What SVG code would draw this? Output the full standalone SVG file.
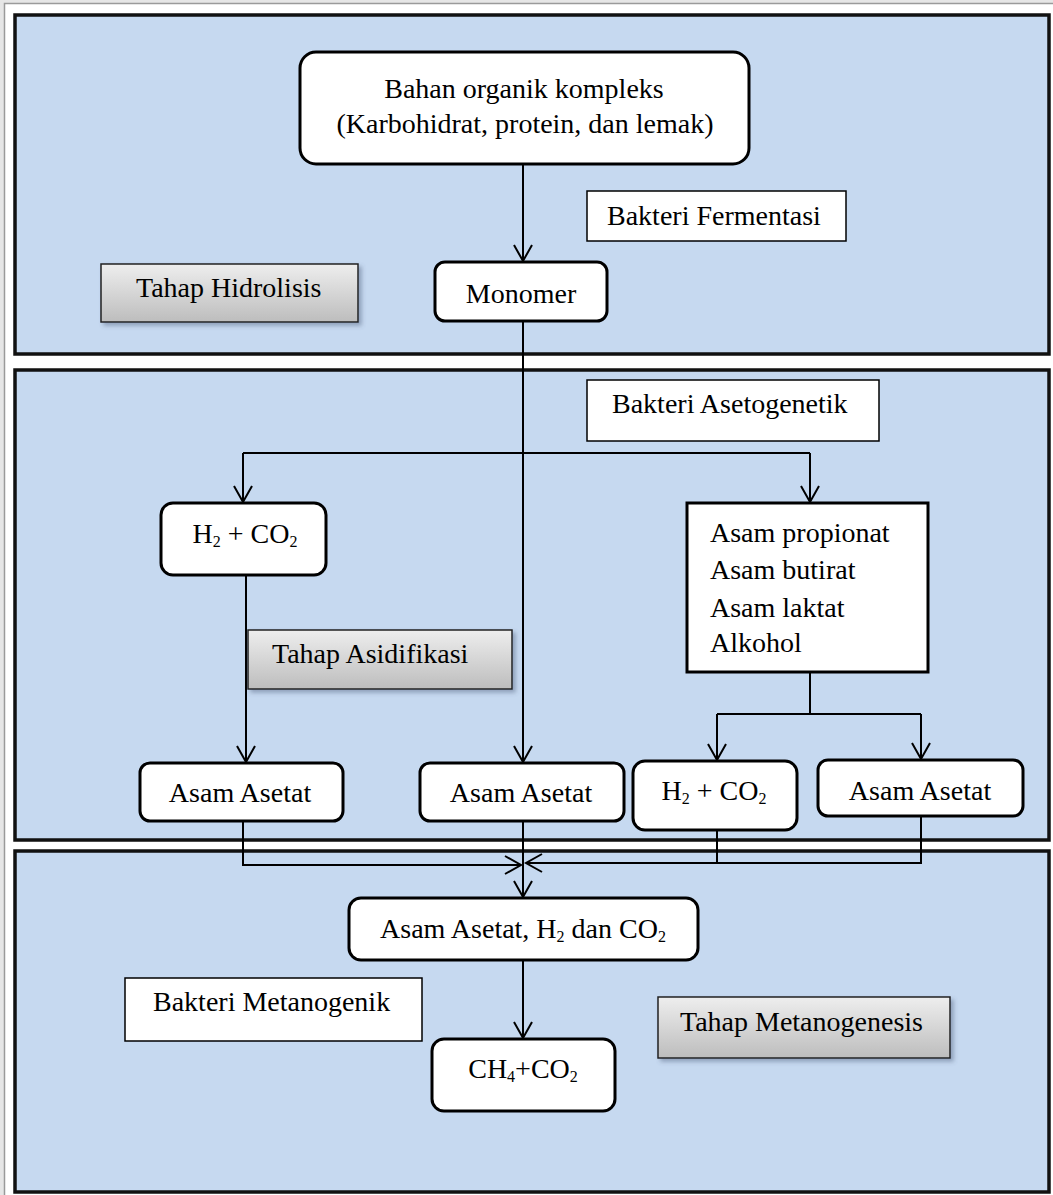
<svg xmlns="http://www.w3.org/2000/svg" width="1053" height="1195" viewBox="0 0 1053 1195">
<style>
text{font-family:"Liberation Serif","Times New Roman",serif;font-size:28px;fill:#000}
.panel{fill:#c6d9f0;stroke:#111;stroke-width:3.5}
.node{fill:#fff;stroke:#000;stroke-width:3}
.lbl{fill:#fff;stroke:#000;stroke-width:1.5}
.stage{fill:url(#gray);stroke:#222;stroke-width:1.5;filter:url(#sh)}
.con{fill:none;stroke:#000;stroke-width:2}
.arr{marker-end:url(#ah)}
.m{text-anchor:middle}
.sub{font-size:16px}
</style>
<defs>
<linearGradient id="gray" x1="0" y1="0" x2="0" y2="1">
<stop offset="0" stop-color="#eeeeee"/>
<stop offset="1" stop-color="#bdbdbd"/>
</linearGradient>
<filter id="sh" x="-10%" y="-20%" width="130%" height="160%">
<feDropShadow dx="3" dy="3" stdDeviation="2" flood-color="#4a5a78" flood-opacity="0.45"/>
</filter>
<marker id="ah" markerUnits="userSpaceOnUse" markerWidth="24" markerHeight="24" viewBox="-20 -12 24 24" refX="0" refY="0" orient="auto">
<path d="M-16,-9 L0,0 L-16,9" fill="none" stroke="#000" stroke-width="2"/>
</marker>
</defs>
<rect x="0" y="0" width="1053" height="1195" fill="#e6e6e6"/>
<rect x="4.5" y="3.5" width="1060" height="1200" fill="#fff" stroke="#9a9a9a" stroke-width="1.5"/>
<g id="panels">
<rect class="panel" x="15" y="15" width="1034" height="339"/>
<rect class="panel" x="15" y="370" width="1034" height="470"/>
<rect class="panel" x="15" y="851" width="1034" height="341"/>
</g>
<g id="connectors">
<path class="con arr" d="M523,164 V261"/>
<path class="con arr" d="M523,321 V762"/>
<path class="con" d="M243,453 H810"/>
<path class="con arr" d="M243,453 V502"/>
<path class="con arr" d="M810,453 V502"/>
<path class="con arr" d="M246,575 V762"/>
<path class="con" d="M810,672 V714 M717,714 H921"/>
<path class="con arr" d="M717,714 V760"/>
<path class="con arr" d="M921,714 V759"/>
<path class="con arr" d="M243,821 V865 H521"/>
<path class="con" d="M717,830 V863"/>
<path class="con arr" d="M921,816 V863 H526"/>
<path class="con arr" d="M523,821 V897"/>
<path class="con arr" d="M523,960 V1038"/>
</g>
<g id="n-bahan">
<rect class="node" x="300" y="52" width="449" height="112" rx="16"/>
<text class="m" x="524" y="98">Bahan organik kompleks</text>
<text class="m" x="525" y="133">(Karbohidrat, protein, dan lemak)</text>
</g>
<g id="n-fermentasi">
<rect class="lbl" x="587" y="191" width="259" height="50"/>
<text x="607" y="225">Bakteri Fermentasi</text>
</g>
<g id="n-hidrolisis">
<rect class="stage" x="101" y="264" width="257" height="58"/>
<text x="136" y="297">Tahap Hidrolisis</text>
</g>
<g id="n-monomer">
<rect class="node" x="435" y="262" width="172" height="59" rx="10"/>
<text class="m" x="521" y="303">Monomer</text>
</g>
<g id="n-asetogenetik">
<rect class="lbl" x="587" y="380" width="292" height="61"/>
<text x="612" y="413">Bakteri Asetogenetik</text>
</g>
<g id="n-h2co2-a">
<rect class="node" x="161" y="503" width="165" height="72" rx="12"/>
<text class="m" x="245" y="543">H<tspan class="sub" dy="4">2</tspan><tspan dy="-4"> + CO</tspan><tspan class="sub" dy="4">2</tspan></text>
</g>
<g id="n-asidifikasi">
<rect class="stage" x="248" y="630" width="264" height="59"/>
<text x="272" y="663">Tahap Asidifikasi</text>
</g>
<g id="n-asam-list">
<rect class="node" x="687" y="503" width="241" height="169"/>
<text x="710" y="542">Asam propionat</text>
<text x="710" y="579">Asam butirat</text>
<text x="710" y="617">Asam laktat</text>
<text x="710" y="652">Alkohol</text>
</g>
<g id="n-asetat-1">
<rect class="node" x="140" y="763" width="203" height="58" rx="10"/>
<text class="m" x="240" y="802">Asam Asetat</text>
</g>
<g id="n-asetat-2">
<rect class="node" x="420" y="763" width="204" height="58" rx="10"/>
<text class="m" x="521" y="802">Asam Asetat</text>
</g>
<g id="n-h2co2-b">
<rect class="node" x="633" y="761" width="164" height="69" rx="12"/>
<text class="m" x="714" y="800">H<tspan class="sub" dy="4">2</tspan><tspan dy="-4"> + CO</tspan><tspan class="sub" dy="4">2</tspan></text>
</g>
<g id="n-asetat-3">
<rect class="node" x="818" y="760" width="205" height="56" rx="10"/>
<text class="m" x="920" y="800">Asam Asetat</text>
</g>
<g id="n-gabungan">
<rect class="node" x="349" y="898" width="349" height="62" rx="12"/>
<text class="m" x="523" y="938">Asam Asetat, H<tspan class="sub" dy="4">2</tspan><tspan dy="-4"> dan CO</tspan><tspan class="sub" dy="4">2</tspan></text>
</g>
<g id="n-metanogenik">
<rect class="lbl" x="125" y="978" width="297" height="63"/>
<text x="153" y="1011">Bakteri Metanogenik</text>
</g>
<g id="n-ch4">
<rect class="node" x="432" y="1039" width="183" height="72" rx="12"/>
<text class="m" x="523" y="1078">CH<tspan class="sub" dy="4">4</tspan><tspan dy="-4">+CO</tspan><tspan class="sub" dy="4">2</tspan></text>
</g>
<g id="n-metanogenesis">
<rect class="stage" x="658" y="997" width="292" height="61"/>
<text x="680" y="1031">Tahap Metanogenesis</text>
</g>
</svg>
